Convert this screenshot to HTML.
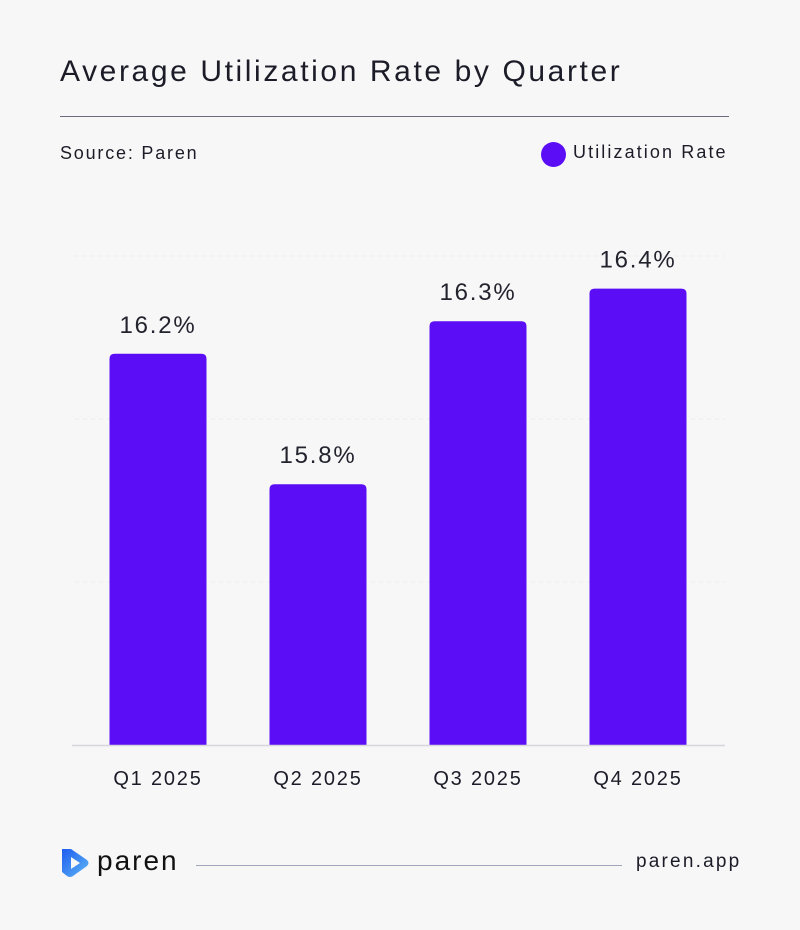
<!DOCTYPE html>
<html><head><meta charset="utf-8"><style>
body{margin:0;background:#f7f7f7;font-family:"Liberation Sans",sans-serif;}
#wrap{position:relative;width:800px;height:930px;background:#f7f7f7;overflow:hidden}
.t{position:absolute;color:#1c1c28;white-space:nowrap}
</style></head><body>
<div id="wrap">
<div class="t" style="left:60px;top:55px;font-size:30px;letter-spacing:2.6px;">Average Utilization Rate by Quarter</div>
<div style="position:absolute;left:60px;top:116px;width:669px;height:1px;background:#6b6b7b"></div>
<div class="t" style="left:60px;top:143px;font-size:18px;letter-spacing:1.8px">Source: Paren</div>
<div style="position:absolute;left:541px;top:141px;">
<span style="position:absolute;left:0;top:1px;width:25px;height:25px;border-radius:50%;background:#5b0ef5"></span>
<span class="t" style="left:32px;top:1px;font-size:18px;letter-spacing:2.1px">Utilization Rate</span>
</div>
<svg id="chart" width="800" height="930" style="position:absolute;left:0;top:0"></svg>
<svg width="34" height="34" style="position:absolute;left:58px;top:846px" viewBox="0 0 34 34">
<defs><linearGradient id="g" x1="0" y1="0" x2="1" y2="1"><stop offset="0" stop-color="#1d5cf0"/><stop offset="1" stop-color="#5fb8f5"/></linearGradient></defs>
<path d="M4 3 L13 3 L29 14 Q32 17 29 20 L15 30 Q12 32 9 30 L4 26 Z M13 11 L13 23 L22 17 Z" fill="url(#g)" fill-rule="evenodd"/>
</svg>
<div class="t" style="left:97px;top:845px;font-size:28px;color:#111;letter-spacing:2px">paren</div>
<div style="position:absolute;left:196px;top:865px;width:426px;height:1px;background:#a0a6bc"></div>
<div class="t" style="left:636px;top:851px;font-size:19px;letter-spacing:2.2px">paren.app</div>
</div>
<script>
const categories=["Q1 2025","Q2 2025","Q3 2025","Q4 2025"];
const values=[16.2,15.8,16.3,16.4];
const valueLabels=["16.2%","15.8%","16.3%","16.4%"];
const gridTicks=[15.5,16.0,16.5];
const svg=document.getElementById('chart');
const NS="http://www.w3.org/2000/svg";
const yMin=15.0,yMax=16.5,yBase=745,yTop=256;
const y=v=>yBase-(v-yMin)/(yMax-yMin)*(yBase-yTop);
const x0=78,band=160,bw=97;
const xc=i=>x0+band*i+band/2;
function mk(t,a){const e=document.createElementNS(NS,t);for(const k in a)e.setAttribute(k,a[k]);svg.appendChild(e);return e;}
gridTicks.forEach(g=>{
 const l=mk('line',{x1:75,x2:725,y1:y(g),y2:y(g),stroke:'#ececec','stroke-width':1,'stroke-dasharray':'4 4'});
 
 
});
values.forEach((v,i)=>{
 const top=y(v);
 const p=mk('path',{d:`M${xc(i)-bw/2} ${yBase} V${top+5} Q${xc(i)-bw/2} ${top} ${xc(i)-bw/2+5} ${top} H${xc(i)+bw/2-5} Q${xc(i)+bw/2} ${top} ${xc(i)+bw/2} ${top+5} V${yBase} Z`,fill:'#5b0ef5'});
 
 
 const t=mk('text',{x:xc(i),y:top-21,'text-anchor':'middle','font-size':24,'letter-spacing':1.8,fill:'#23232e','font-family':'Liberation Sans, sans-serif'});
 t.textContent=valueLabels[i];
 
 
 const c=mk('text',{x:xc(i),y:785,'text-anchor':'middle','font-size':20,'letter-spacing':1.8,fill:'#1c1c28','font-family':'Liberation Sans, sans-serif'});
 c.textContent=categories[i];
 
 
});
const ax=mk('line',{x1:72,x2:725,y1:yBase+0.5,y2:yBase+0.5,stroke:'#d6d6dc','stroke-width':1.5});


</script>
</body></html>
